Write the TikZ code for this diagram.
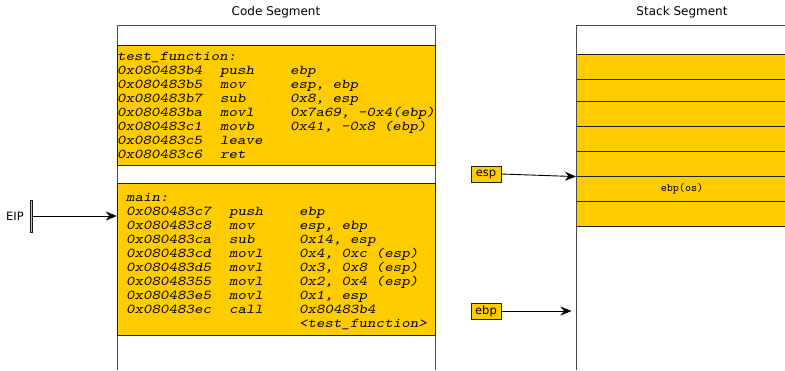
\documentclass[tikz,border=0pt]{standalone}
\usepackage{fontspec}
\setmainfont{DejaVu Sans}
\newfontfamily\codefont[Extension=.otf,FakeStretch=1.2]{lmmonoslant10-regular}
\newfontfamily\slotfont[Extension=.otf]{lmmono10-regular}
\usetikzlibrary{arrows.meta}
\definecolor{gold}{HTML}{FFCC00}
\definecolor{edge}{HTML}{222222}
\begin{document}
\begin{tikzpicture}[x=1pt,y=-1pt,
  title/.style={font=\fontsize{12}{13}\selectfont, inner sep=0},
  block/.style={fill=gold, draw=edge, line width=0.8pt},
  code/.style={anchor=base west, inner sep=0, font=\codefont\fontsize{13.5}{13.9}\selectfont},
  tag/.style={fill=gold, draw=edge, line width=0.7pt, minimum width=30pt, minimum height=16pt,
              inner sep=0, font=\fontsize{11.5}{12}\selectfont},
  ptr/.style={-{Stealth[length=11pt,width=9pt,inset=3.5pt]}, line width=0.9pt, draw=black},
  frame/.style={draw=black!70, line width=0.8pt}]
\useasboundingbox (0,0) rectangle (785,370);

% ---- code segment ----
\node[title] (codetitle) at (276,12) {Code Segment};
\draw[frame] (117,370) -- (117,25) -- (435,25) -- (435,370);
\draw[block] (117,45) rectangle (435,165);
\draw[block] (117,183) rectangle (435,335);
\node (mainblk) at (276,259) [minimum width=318pt, minimum height=152pt, inner sep=0] {};

\node[code] (testcode) at (117,60.9) {%
\begin{tabular}[t]{@{}p{103pt}@{}p{70pt}@{}l@{}}
test\_function: & & \\
0x080483b4 & push & ebp\\
0x080483b5 & mov  & esp, ebp\\
0x080483b7 & sub  & 0x8, esp\\
0x080483ba & movl & 0x7a69, -0x4(ebp)\\
0x080483c1 & movb & 0x41, -0x8 (ebp)\\
0x080483c5 & leave & \\
0x080483c6 & ret & \\
\end{tabular}};

\node[code] (maincode) at (126,201.9) {%
\begin{tabular}[t]{@{}p{103pt}@{}p{70pt}@{}l@{}}
main: & & \\
0x080483c7 & push & ebp\\
0x080483c8 & mov  & esp, ebp\\
0x080483ca & sub  & 0x14, esp\\
0x080483cd & movl & 0x4, 0xc (esp)\\
0x080483d5 & movl & 0x3, 0x8 (esp)\\
0x08048355 & movl & 0x2, 0x4 (esp)\\
0x080483e5 & movl & 0x1, esp\\
0x080483ec & call & 0x80483b4\\
 & & <test\_function>\\
\end{tabular}};

% ---- instruction pointer ----
\node[inner sep=0, font=\fontsize{11.5}{12}\selectfont] (eiplabel) at (15,216) {EIP};
\draw[fill=gold, draw=black!90, line width=0.7pt] (30,200) rectangle (32.2,232);
\coordinate (eip) at (32.2,216);
\draw[ptr] (eip) -- (mainblk.west |- eip);

% ---- stack segment ----
\node[title] (stacktitle) at (682,12) {Stack Segment};
\draw[frame] (576,370) -- (576,25) -- (786,25);
\fill[gold] (576,54.3) rectangle (786,226.5);
\foreach \y in {54.3,79.7,101,126.3,151.3,176.3,201.3,226.5}
  \draw[edge, line width=0.7pt] (576,\y) -- (786,\y);
\node[inner sep=0, font=\slotfont\fontsize{11.5}{12}\selectfont] (slotebp) at (682,188.8) {ebp(os)};
\draw[frame] (576,25) -- (576,370);

\node[tag] (esp) at (486,174) {esp};
\node[tag] (ebp) at (486,311) {ebp};
\coordinate (espslot) at (576,176.6);
\coordinate (ebptarget) at (571.5,311);
\draw[ptr] (esp.east) -- (espslot);
\draw[ptr] (ebp.east) -- (ebptarget);
\end{tikzpicture}
\end{document}
